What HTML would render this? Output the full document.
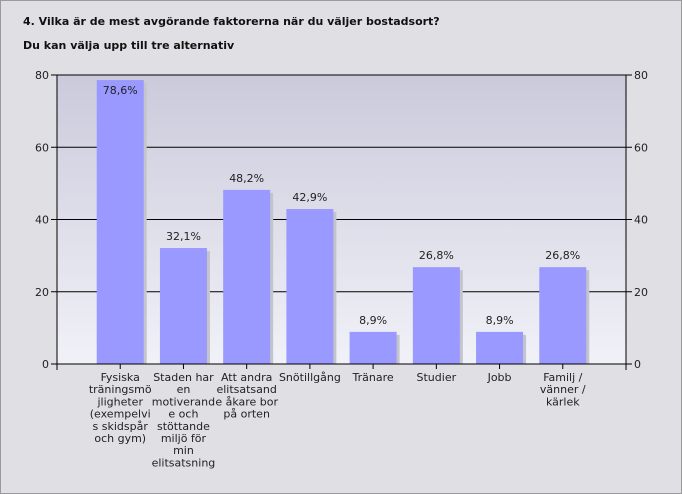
<!DOCTYPE html>
<html><head><meta charset="utf-8"><style>
body{margin:0;width:682px;height:494px;overflow:hidden;background:#e0dfe4;font-family:"DejaVu Sans","Liberation Sans",sans-serif;}
#wrap{position:absolute;left:0;top:0;width:680px;height:492px;border:1px solid #9a9a9a;}
.t{position:absolute;left:22px;font-size:11px;font-weight:bold;color:#111;}
</style></head><body>
<div id="wrap">
<div class="t" style="top:14px">4. Vilka är de mest avgörande faktorerna när du väljer bostadsort?</div>
<div class="t" style="top:38px">Du kan välja upp till tre alternativ</div>
</div>
<svg id="c" width="682" height="494" style="position:absolute;left:0;top:0">
<defs><linearGradient id="g" x1="0" y1="0" x2="0" y2="1"><stop offset="0" stop-color="#cbcadb"/><stop offset="1" stop-color="#f1f1f8"/></linearGradient></defs>
</svg>
<script>
const categories=[["Fysiska","träningsmö","jligheter","(exempelvi","s skidspår","och gym)"],["Staden har","en","motiverand","e och","stöttande","miljö för","min","elitsatsning"],["Att andra","elitsatsand","e åkare bor","på orten"],["Snötillgång"],["Tränare"],["Studier"],["Jobb"],["Familj /","vänner /","kärlek"]];
const values=[78.6,32.1,48.2,42.9,8.9,26.8,8.9,26.8];
const valueLabels=["78,6%","32,1%","48,2%","42,9%","8,9%","26,8%","8,9%","26,8%"];
const ticks=[0,20,40,60,80];
const svg=document.getElementById('c');const NS="http://www.w3.org/2000/svg";
const L=57,R=626,T=75,B=364,ymax=80;
const y=v=>B-(v/ymax)*(B-T);
const step=(R-L)/(categories.length+1);
const x=i=>L+step*(i+1);
function mk(t,a,p){const e=document.createElementNS(NS,t);for(const k in a)e.setAttribute(k,a[k]);(p||svg).appendChild(e);return e;}
let bg=mk('rect',{x:L,y:T,width:R-L,height:B-T,fill:'url(#g)'});


ticks.forEach(t=>{
 if(t>0&&t<80){let gl=mk('line',{x1:L,x2:R,y1:y(t),y2:y(t),stroke:'#000','stroke-width':1});
 
 }
 mk('line',{x1:L-6,x2:L,y1:y(t),y2:y(t),stroke:'#000'});
 mk('line',{x1:R,x2:R+6,y1:y(t),y2:y(t),stroke:'#000'});
 let a=mk('text',{x:L-8,y:y(t)+4,'text-anchor':'end','font-size':11,fill:'#222'});a.textContent=t;
 
 
 let b=mk('text',{x:R+8,y:y(t)+4,'font-size':11,fill:'#222'});b.textContent=t;
 
 
});
const bw=47;
values.forEach((v,i)=>{
 const cx=x(i);
 mk('rect',{x:cx-bw/2+3,y:y(v)+3,width:bw,height:B-y(v)-3,fill:'#c4c4cc'});
 let r=mk('rect',{x:cx-bw/2,y:y(v),width:bw,height:B-y(v),fill:'#9999ff'});
 
 
 const inside=v>75;
 let t=mk('text',{x:cx,y:inside?y(v)+14:y(v)-8,'text-anchor':'middle','font-size':11,fill:'#222'});t.textContent=valueLabels[i];
 
 
 mk('line',{x1:cx,x2:cx,y1:B,y2:B+5,stroke:'#000'});
 let tx=mk('text',{x:cx,y:B+17,'text-anchor':'middle','font-size':11,fill:'#222'});
 
 
 categories[i].forEach((s,j)=>{let ts=mk('tspan',{x:cx,dy:j?12.2:0},tx);ts.textContent=s;});
});
mk('line',{x1:L,x2:L,y1:T,y2:B+6,stroke:'#000'});
mk('line',{x1:R,x2:R,y1:T,y2:B+6,stroke:'#000'});
mk('line',{x1:L,x2:R,y1:T,y2:T,stroke:'#000'});
mk('line',{x1:L-6,x2:R+6,y1:B,y2:B,stroke:'#000'});
</script>
</body></html>
